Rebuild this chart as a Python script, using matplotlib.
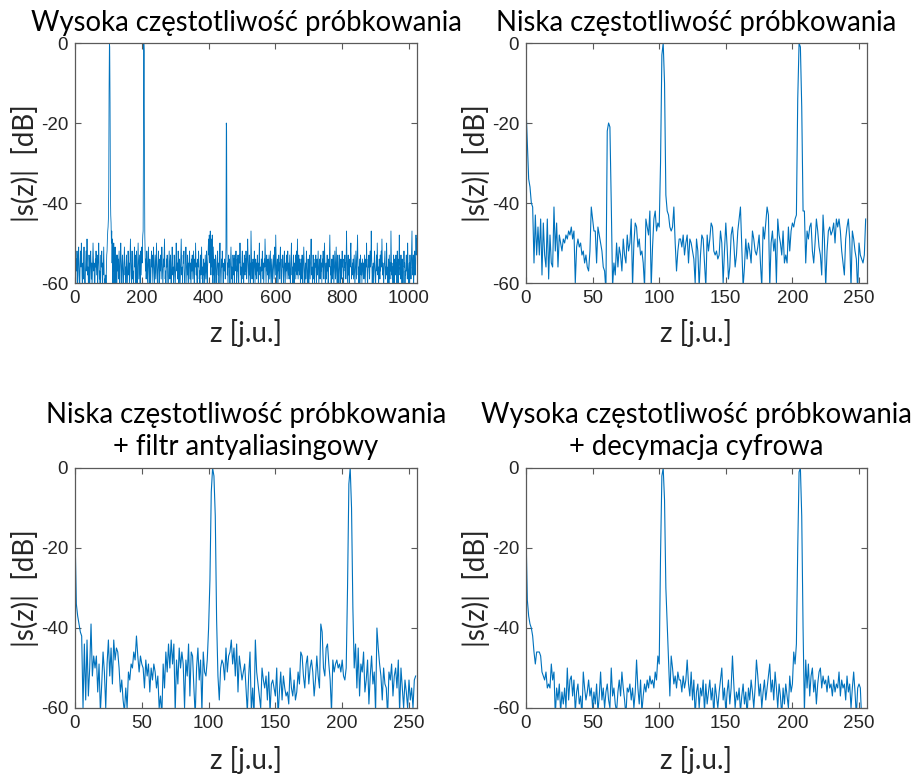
import numpy as np
import matplotlib
matplotlib.use("Agg")
import matplotlib.pyplot as plt

plt.rcParams["axes.unicode_minus"] = False

# ---------------- data (dB values) ----------------
titles = [
    "Wysoka częstotliwość próbkowania",
    "Niska częstotliwość próbkowania",
    "Niska częstotliwość próbkowania\n+ filtr antyaliasingowy",
    "Wysoka częstotliwość próbkowania\n+ decymacja cyfrowa",
]
xlabel_text = "z [j.u.]"
ylabel_text = "|s(z)|  [dB]"

xticks_high = [0, 200, 400, 600, 800, 1000]
xticks_low = [0, 50, 100, 150, 200, 250]
yticks = [-60, -40, -20, 0]
xmax_high = 1024
xmax_low = 256

s_high = [
    -16,-44,-62,-56,-54,-57,-52,-55,-60,-58,-53,-51,-55,-59,-63,-57,-54,-52,-56,-50,-53,-58,-61,-56,-55,-59,-54,-51,-56,-60,-64,-58,
    -55,-52,-57,-54,-49,-53,-58,-56,-60,-57,-53,-55,-61,-58,-54,-52,-56,-59,-55,-62,-58,-53,-50,-54,-57,-55,-60,-63,-58,-54,-56,-52,
    -55,-58,-53,-57,-61,-56,-54,-50,-55,-59,-57,-62,-58,-55,-53,-56,-52,-57,-60,-55,-58,-54,-51,-56,-61,-59,-63,-61,-58,-60,-56,-53,
    -52,-49,-47,-46,-44,-36,-12,0,-1,-15,-37,-43,-45,-50,-47,-55,-49,-60,-52,-57,-50,-61,-54,-58,-51,-62,-56,-59,-53,-61,-56,-53,
    -57,-54,-59,-55,-52,-56,-60,-58,-53,-50,-54,-57,-61,-56,-53,-55,-59,-62,-57,-54,-51,-55,-58,-56,-60,-57,-53,-56,-63,-59,-55,-52,
    -54,-58,-55,-61,-57,-53,-49,-54,-58,-60,-56,-52,-55,-59,-57,-62,-58,-54,-51,-56,-53,-57,-60,-55,-52,-58,-61,-57,-54,-50,-55,-59,
    -56,-53,-57,-60,-55,-52,-58,-54,-51,-55,-50,-48,-47,-20,0,-2,-30,-48,-53,-57,-54,-59,-56,-52,-55,-60,-57,-54,-51,-56,-61,-58,
    -54,-57,-62,-58,-55,-52,-56,-53,-57,-60,-55,-51,-54,-58,-61,-57,-53,-56,-59,-55,-50,-54,-58,-62,-57,-55,-52,-56,-60,-58,-54,-57,
    -53,-56,-59,-55,-51,-54,-58,-61,-57,-54,-56,-52,-49,-55,-59,-57,-62,-58,-54,-56,-53,-57,-60,-64,-58,-55,-52,-56,-59,-55,-53,-58,
    -61,-57,-54,-51,-55,-58,-56,-60,-57,-53,-55,-59,-62,-58,-54,-50,-53,-57,-55,-59,-56,-52,-55,-61,-58,-54,-57,-60,-56,-53,-49,-54,
    -58,-56,-60,-57,-53,-55,-52,-56,-59,-63,-58,-55,-51,-54,-57,-60,-56,-53,-58,-55,-61,-57,-54,-52,-56,-59,-55,-62,-58,-54,-57,-53,
    -56,-59,-55,-52,-57,-61,-58,-54,-56,-50,-54,-58,-55,-60,-63,-57,-54,-56,-52,-55,-59,-57,-61,-56,-53,-58,-54,-51,-55,-59,-56,-60,
    -57,-54,-58,-55,-61,-57,-53,-56,-59,-55,-52,-57,-60,-56,-54,-51,-49,-53,-48,-50,-55,-47,-51,-58,-49,-52,-56,-48,-53,-60,-51,-55,
    -58,-54,-57,-61,-56,-53,-55,-59,-62,-57,-54,-52,-56,-58,-55,-60,-57,-53,-50,-55,-58,-61,-57,-54,-56,-52,-55,-59,-63,-58,-55,-57,
    -54,-56,-59,-55,-51,-20,-22,-52,-58,-55,-61,-57,-53,-56,-54,-58,-62,-57,-54,-51,-55,-59,-56,-60,-57,-53,-55,-58,-54,-61,-56,-53,
    -57,-55,-52,-56,-60,-58,-54,-57,-53,-59,-62,-56,-53,-55,-50,-54,-58,-56,-61,-57,-54,-52,-56,-59,-55,-60,-57,-53,-56,-58,-54,-57,
    -52,-55,-59,-57,-54,-49,-53,-57,-60,-56,-53,-58,-55,-62,-57,-47,-52,-56,-59,-55,-58,-54,-61,-57,-55,-52,-56,-60,-57,-54,-58,-55,
    -59,-56,-53,-57,-55,-61,-58,-54,-50,-55,-58,-56,-63,-58,-54,-57,-55,-52,-56,-59,-55,-61,-57,-54,-56,-49,-53,-58,-60,-56,-53,-57,
    -55,-58,-54,-61,-57,-53,-56,-59,-55,-52,-56,-60,-57,-54,-58,-62,-57,-55,-53,-56,-59,-54,-51,-55,-58,-48,-53,-57,-60,-56,-54,-57,
    -60,-56,-53,-57,-55,-59,-54,-51,-55,-58,-61,-57,-54,-56,-53,-57,-60,-58,-54,-52,-56,-62,-58,-55,-57,-53,-56,-59,-55,-52,-56,-58,
    -55,-59,-56,-53,-58,-61,-57,-54,-50,-55,-58,-56,-60,-57,-53,-56,-63,-58,-55,-57,-53,-59,-55,-52,-56,-58,-49,-54,-59,-56,-53,-57,
    -54,-58,-55,-61,-57,-54,-56,-59,-53,-56,-60,-57,-54,-51,-55,-58,-62,-57,-55,-59,-56,-52,-55,-58,-61,-57,-54,-56,-60,-57,-53,-56,
    -59,-55,-52,-49,-54,-58,-56,-60,-57,-53,-56,-59,-55,-62,-58,-54,-56,-53,-57,-60,-56,-54,-58,-55,-52,-57,-61,-57,-54,-56,-59,-55,
    -53,-57,-55,-60,-57,-54,-56,-52,-57,-59,-55,-50,-54,-58,-62,-57,-55,-59,-56,-53,-57,-55,-61,-58,-54,-56,-52,-48,-54,-58,-56,-60,
    -57,-54,-56,-59,-55,-53,-57,-61,-58,-55,-52,-56,-59,-57,-51,-55,-58,-60,-56,-53,-57,-63,-58,-55,-53,-56,-60,-57,-54,-56,-59,-55,
    -52,-56,-54,-58,-61,-57,-54,-56,-53,-57,-55,-59,-54,-47,-53,-57,-60,-56,-53,-58,-55,-62,-57,-54,-56,-52,-50,-55,-59,-56,-58,-55,
    -57,-54,-59,-56,-53,-57,-61,-58,-55,-52,-56,-59,-55,-51,-48,-54,-58,-56,-60,-57,-54,-62,-57,-53,-56,-58,-55,-60,-57,-54,-56,-58,
    -55,-59,-56,-53,-57,-60,-57,-54,-56,-50,-55,-58,-62,-57,-54,-56,-53,-57,-59,-55,-52,-56,-54,-47,-53,-57,-60,-56,-58,-55,-61,-57,
    -54,-52,-56,-58,-61,-57,-55,-53,-57,-50,-54,-58,-56,-62,-57,-54,-56,-59,-53,-57,-55,-52,-56,-49,-54,-58,-55,-57,-63,-58,-56,-54,
    -52,-56,-59,-56,-58,-50,-55,-57,-61,-56,-58,-54,-60,-53,-56,-59,-55,-57,-47,-53,-58,-55,-59,-56,-61,-57,-53,-56,-60,-56,-54,-58,
    -56,-53,-57,-55,-60,-52,-56,-54,-61,-57,-55,-48,-54,-58,-56,-59,-53,-57,-55,-60,-54,-57,-62,-58,-56,-52,-56,-55,-60,-57,-58,-55,
    -53,-57,-55,-59,-50,-55,-57,-60,-58,-55,-61,-53,-57,-56,-59,-55,-52,-47,-56,-58,-55,-53,-60,-57,-58,-52,-56,-58,-55,-48,-53,-49,
]

s_low = [
    -16,-25,-34,-36,-40,-41,-55,-43,-53,-46,-53,-44,-58,-45,-53,-56,-44,-59,-48,-55,-56,-41,-52,-45,-56,-48,-50,-52,-49,-50,-48,-49,
    -47,-48,-46,-49,-47,-60,-51,-49,-51,-50,-53,-52,-55,-53,-56,-57,-52,-41,-44,-47,-47,-55,-46,-48,-50,-52,-56,-57,-62,-22,-20,-21,
    -40,-61,-55,-58,-50,-56,-51,-53,-57,-49,-53,-55,-48,-52,-50,-44,-61,-50,-45,-46,-51,-49,-53,-52,-55,-61,-44,-46,-48,-42,-61,-51,
    -44,-42,-47,-45,-46,-30,-3,0,-10,-38,-42,-43,-46,-47,-46,-41,-50,-57,-52,-49,-49,-51,-48,-53,-50,-48,-55,-49,-50,-52,-54,-60,
    -49,-52,-61,-53,-48,-49,-55,-61,-48,-52,-49,-45,-46,-52,-53,-52,-54,-53,-47,-50,-60,-52,-45,-51,-59,-56,-48,-46,-50,-56,-53,-47,
    -44,-41,-51,-61,-56,-49,-54,-50,-52,-55,-47,-49,-52,-53,-51,-48,-55,-61,-46,-49,-45,-41,-43,-61,-50,-47,-52,-49,-60,-44,-48,-50,
    -53,-47,-55,-53,-55,-46,-52,-47,-45,-46,-44,-43,-14,0,-1,-16,-42,-42,-55,-47,-49,-46,-45,-52,-55,-50,-44,-47,-51,-53,-58,-43,
    -49,-61,-52,-47,-46,-48,-47,-45,-50,-44,-46,-44,-47,-52,-55,-58,-49,-46,-44,-49,-61,-47,-49,-52,-54,-62,-50,-53,-54,-55,-53,-44,
]

s_filter = [
    -16,-34,-37,-39,-41,-42,-60,-44,-58,-43,-57,-50,-39,-52,-47,-50,-47,-56,-49,-61,-54,-46,-51,-60,-49,-43,-52,-45,-54,-43,-48,-45,
    -46,-50,-56,-53,-58,-61,-55,-60,-51,-53,-49,-50,-46,-48,-42,-47,-51,-47,-49,-50,-55,-48,-52,-49,-56,-50,-53,-49,-51,-55,-52,-60,
    -57,-62,-49,-55,-46,-51,-44,-50,-43,-49,-44,-61,-48,-54,-45,-50,-46,-49,-60,-48,-52,-44,-57,-46,-47,-55,-62,-50,-45,-53,-48,-61,
    -46,-51,-52,-48,-40,-28,-6,0,-2,-12,-38,-52,-58,-50,-48,-49,-53,-45,-51,-47,-46,-43,-49,-45,-52,-44,-56,-47,-50,-53,-51,-49,
    -55,-61,-52,-46,-61,-55,-62,-43,-51,-54,-57,-60,-50,-53,-55,-52,-58,-51,-61,-54,-53,-55,-57,-50,-62,-56,-51,-58,-52,-55,-57,-56,
    -59,-50,-55,-57,-53,-58,-56,-51,-54,-46,-47,-52,-55,-49,-47,-54,-50,-48,-51,-57,-53,-47,-52,-55,-39,-41,-50,-52,-45,-44,-49,-53,
    -61,-48,-51,-49,-48,-50,-49,-51,-48,-52,-53,-50,-30,-4,0,-10,-35,-50,-44,-55,-45,-57,-49,-51,-46,-56,-53,-48,-59,-52,-47,-54,
    -51,-61,-40,-45,-49,-52,-58,-50,-54,-55,-62,-51,-53,-49,-57,-52,-50,-55,-48,-61,-50,-55,-60,-53,-56,-60,-53,-58,-55,-60,-53,-52,
]

s_decim = [
    -16,-33,-37,-39,-40,-42,-46,-49,-46,-46,-46,-47,-51,-52,-53,-51,-55,-54,-55,-49,-53,-51,-62,-55,-58,-54,-61,-56,-59,-55,-60,-50,
    -58,-53,-52,-57,-53,-61,-56,-54,-59,-57,-62,-51,-55,-58,-56,-53,-57,-55,-60,-56,-59,-54,-61,-57,-51,-58,-55,-60,-56,-54,-58,-60,
    -50,-57,-55,-59,-61,-56,-53,-57,-51,-55,-58,-62,-55,-56,-54,-58,-55,-60,-56,-48,-55,-59,-53,-61,-57,-54,-56,-53,-55,-52,-54,-53,
    -55,-51,-53,-47,-49,-22,-2,0,-8,-30,-39,-48,-57,-47,-50,-54,-52,-55,-51,-53,-53,-56,-52,-55,-53,-48,-54,-57,-51,-58,-53,-62,
    -56,-54,-60,-55,-57,-53,-61,-54,-59,-56,-53,-58,-55,-62,-54,-57,-60,-56,-53,-50,-58,-55,-61,-56,-53,-59,-55,-47,-54,-60,-56,-58,
    -55,-61,-57,-54,-59,-56,-62,-55,-58,-53,-56,-60,-55,-48,-52,-57,-54,-60,-56,-53,-58,-55,-52,-49,-56,-53,-58,-51,-55,-60,-54,-57,
    -62,-55,-59,-54,-57,-60,-52,-56,-54,-46,-49,-44,-20,-1,0,-12,-40,-61,-48,-55,-49,-57,-52,-50,-56,-53,-59,-54,-51,-50,-55,-52,
    -54,-53,-56,-52,-55,-54,-57,-53,-56,-54,-55,-51,-57,-53,-55,-54,-58,-52,-56,-54,-60,-55,-51,-56,-62,-55,-54,-55,-63,
]

series = [s_high, s_low, s_filter, s_decim]
xmaxes = [xmax_high, xmax_low, xmax_low, xmax_low]
xtick_sets = [xticks_high, xticks_low, xticks_low, xticks_low]
line_widths = [0.6, 0.8, 0.8, 0.8]

# ---------------- layout / style ----------------
W, H = 912, 774
fig = plt.figure(figsize=(W / 100, H / 100), dpi=100)

LINE = "#0072BD"
AXC = "#5a5a5a"
TXT = "#262626"
TICKFONT = "Liberation Sans"
LABFONT = ["Lato", "DejaVu Sans"]

# axes boxes in pixels: (left, top, right, bottom)
boxes = [(75, 43, 417, 283), (526, 43, 867, 283),
         (75, 468, 417, 708), (526, 468, 867, 708)]
title_y = [23, 23, 431, 431]
xlabel_y = [333, 333, 760, 760]
ylabel_x = [25, 476, 25, 476]

for i, (l, t, r, b) in enumerate(boxes):
    ax = fig.add_axes([l / W, 1 - b / H, (r - l) / W, (b - t) / H])
    y = np.asarray(series[i], dtype=float)
    x = np.arange(len(y))
    ax.plot(x, y, color=LINE, lw=line_widths[i])
    ax.set_xlim(0, xmaxes[i])
    ax.set_ylim(-60, 0)
    ax.set_xticks(xtick_sets[i])
    ax.set_yticks(yticks)
    ax.tick_params(direction="in", length=4, width=0.8, color=AXC,
                   top=True, right=True, labelsize=13.5, labelcolor=TXT, pad=5)
    for lab in ax.get_xticklabels() + ax.get_yticklabels():
        lab.set_fontfamily(TICKFONT)
    for sp in ax.spines.values():
        sp.set_color(AXC)
        sp.set_linewidth(0.9)
    cx = (l + r) / 2
    fig.text(cx / W, 1 - title_y[i] / H, titles[i], ha="center", va="center",
             fontsize=19.8, family=LABFONT, color="black", linespacing=1.3)
    fig.text(cx / W, 1 - xlabel_y[i] / H, xlabel_text, ha="center", va="center",
             fontsize=20, family=LABFONT, color=TXT)
    fig.text(ylabel_x[i] / W, 1 - ((t + b) / 2) / H, ylabel_text, ha="center",
             va="center", rotation=90, fontsize=20, family=LABFONT, color=TXT)

fig.savefig("out.png", dpi=100, facecolor="white")
